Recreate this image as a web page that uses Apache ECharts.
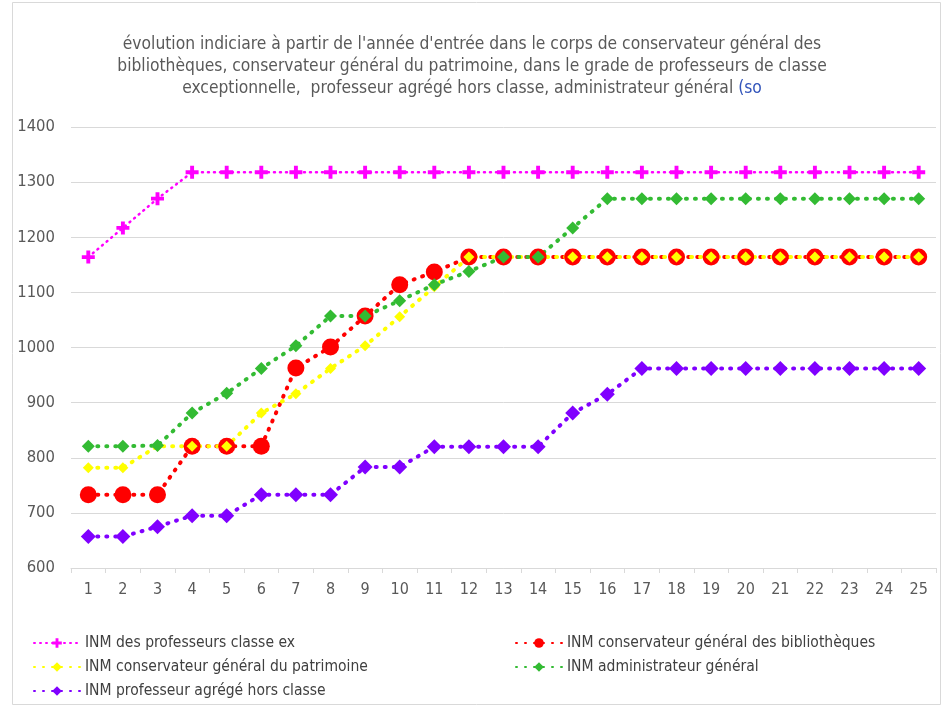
<!DOCTYPE html>
<html>
<head>
<meta charset="utf-8">
<script src="https://cdn.jsdelivr.net/npm/echarts@6/dist/echarts.min.js"></script>
<style>
  html, body { margin: 0; padding: 0; background: #fff; }
  #chart { width: 944px; height: 706px; }
</style>
</head>
<body>
<div id="chart"></div>
<script>
// années dans le corps
const annees = ["1","2","3","4","5","6","7","8","9","10","11","12","13","14","15","16","17","18","19","20","21","22","23","24","25"];

// INM par série
const profClasseEx = [1164,1217,1270,1318,1318,1318,1318,1318,1318,1318,1318,1318,1318,1318,1318,1318,1318,1318,1318,1318,1318,1318,1318,1318,1318];
const consBiblio   = [733,733,733,821,821,821,963,1001,1057,1114,1137,1164,1164,1164,1164,1164,1164,1164,1164,1164,1164,1164,1164,1164,1164];
const consPatri    = [782,782,821,821,821,881,916,962,1003,1056,1110,1164,1164,1164,1164,1164,1164,1164,1164,1164,1164,1164,1164,1164,1164];
const adminGen     = [821,821,822,881,917,962,1003,1057,1057,1085,1114,1138,1164,1164,1217,1270,1270,1270,1270,1270,1270,1270,1270,1270,1270];
const profAgrege   = [657,657,675,695,695,733,733,733,783,783,820,820,820,820,881,915,962,962,962,962,962,962,962,962,962];

const yTicks = { min: 600, max: 1400, step: 100 };

const FONT = "'Liberation Sans Narrow', 'DejaVu Sans Condensed', sans-serif";
const plusPath = "path://M-3,-10 L3,-10 L3,-3 L10,-3 L10,3 L3,3 L3,10 L-3,10 L-3,3 L-10,3 L-10,-3 L-3,-3 Z";

var myChart = echarts.init(document.getElementById("chart"));

function serie(name, data, color, symbol, size, width, dash) {
  return {
    name: name,
    type: "line",
    data: data,
    symbol: symbol,
    symbolSize: size,
    showAllSymbol: true,
    itemStyle: { color: color },
    lineStyle: { color: color, width: width, type: dash, cap: "round" },
    emphasis: { disabled: true },
    animation: false,
  };
}

var option = {
  backgroundColor: "#fff",
  title: {
    left: "center",
    top: 29,
    padding: [5, 0, 5, 44],
    text: "{t|évolution indiciare à partir de l'année d'entrée dans le corps de conservateur général des}\n" +
      "{t|bibliothèques, conservateur général du patrimoine, dans le grade de professeurs de classe}\n" +
      "{t|exceptionnelle,  professeur agrégé hors classe, administrateur général }{b|(so}",
    textStyle: {
      fontWeight: "normal",
      rich: {
        t: { fontFamily: FONT, fontSize: 17.3, fontWeight: "normal", color: "#595959", lineHeight: 22 },
        b: { fontFamily: FONT, fontSize: 17.3, fontWeight: "normal", color: "#3355bb", lineHeight: 22 },
      },
    },
  },
  grid: { left: 71, right: 8, top: 127, bottom: 138 },
  xAxis: {
    type: "category",
    data: annees,
    boundaryGap: true,
    axisLine: { lineStyle: { color: "#d9d9d9", width: 1 } },
    axisTick: { show: true, length: 5, lineStyle: { color: "#d9d9d9" } },
    axisLabel: { color: "#595959", fontFamily: FONT, fontSize: 16, margin: 14 },
  },
  yAxis: {
    type: "value",
    min: yTicks.min,
    max: yTicks.max,
    interval: yTicks.step,
    axisLine: { show: false },
    axisTick: { show: false },
    splitLine: { lineStyle: { color: "#d9d9d9", width: 1 } },
    axisLabel: {
      color: "#595959", fontFamily: FONT, fontSize: 16.5, margin: 16,
      formatter: function (v) { return String(v); },
    },
  },
  legend: [
    {
      orient: "vertical",
      left: 28,
      top: 630,
      itemWidth: 46,
      itemHeight: 12,
      itemGap: 8,
      textStyle: { color: "#404040", fontFamily: FONT, fontSize: 15.5 },
      data: ["INM des professeurs classe ex", "INM conservateur général du patrimoine", "INM professeur agrégé hors classe"],
    },
    {
      orient: "vertical",
      left: 510,
      top: 630,
      itemWidth: 46,
      itemHeight: 12,
      itemGap: 8,
      textStyle: { color: "#404040", fontFamily: FONT, fontSize: 15.5 },
      data: ["INM conservateur général des bibliothèques", "INM administrateur général"],
    },
  ],
  graphic: [
    {
      type: "rect",
      left: 10, top: 0,
      shape: { width: 928, height: 702 },
      style: { fill: "none", stroke: "#d9d9d9", lineWidth: 1 },
      silent: true,
    },
  ],
  series: [
    serie("INM des professeurs classe ex", profClasseEx, "#ff00ff", plusPath, 13, 2.5, [1, 5]),
    serie("INM conservateur général des bibliothèques", consBiblio, "#ff0000", "circle", 17, 4, [1, 8]),
    serie("INM conservateur général du patrimoine", consPatri, "#ffff00", "diamond", 11, 4, [1, 8]),
    serie("INM administrateur général", adminGen, "#33bb33", "diamond", 13, 4, [1, 8]),
    serie("INM professeur agrégé hors classe", profAgrege, "#8000ff", "diamond", 15, 4, [1, 8]),
  ],
};

myChart.setOption(option);
</script>
</body>
</html>
